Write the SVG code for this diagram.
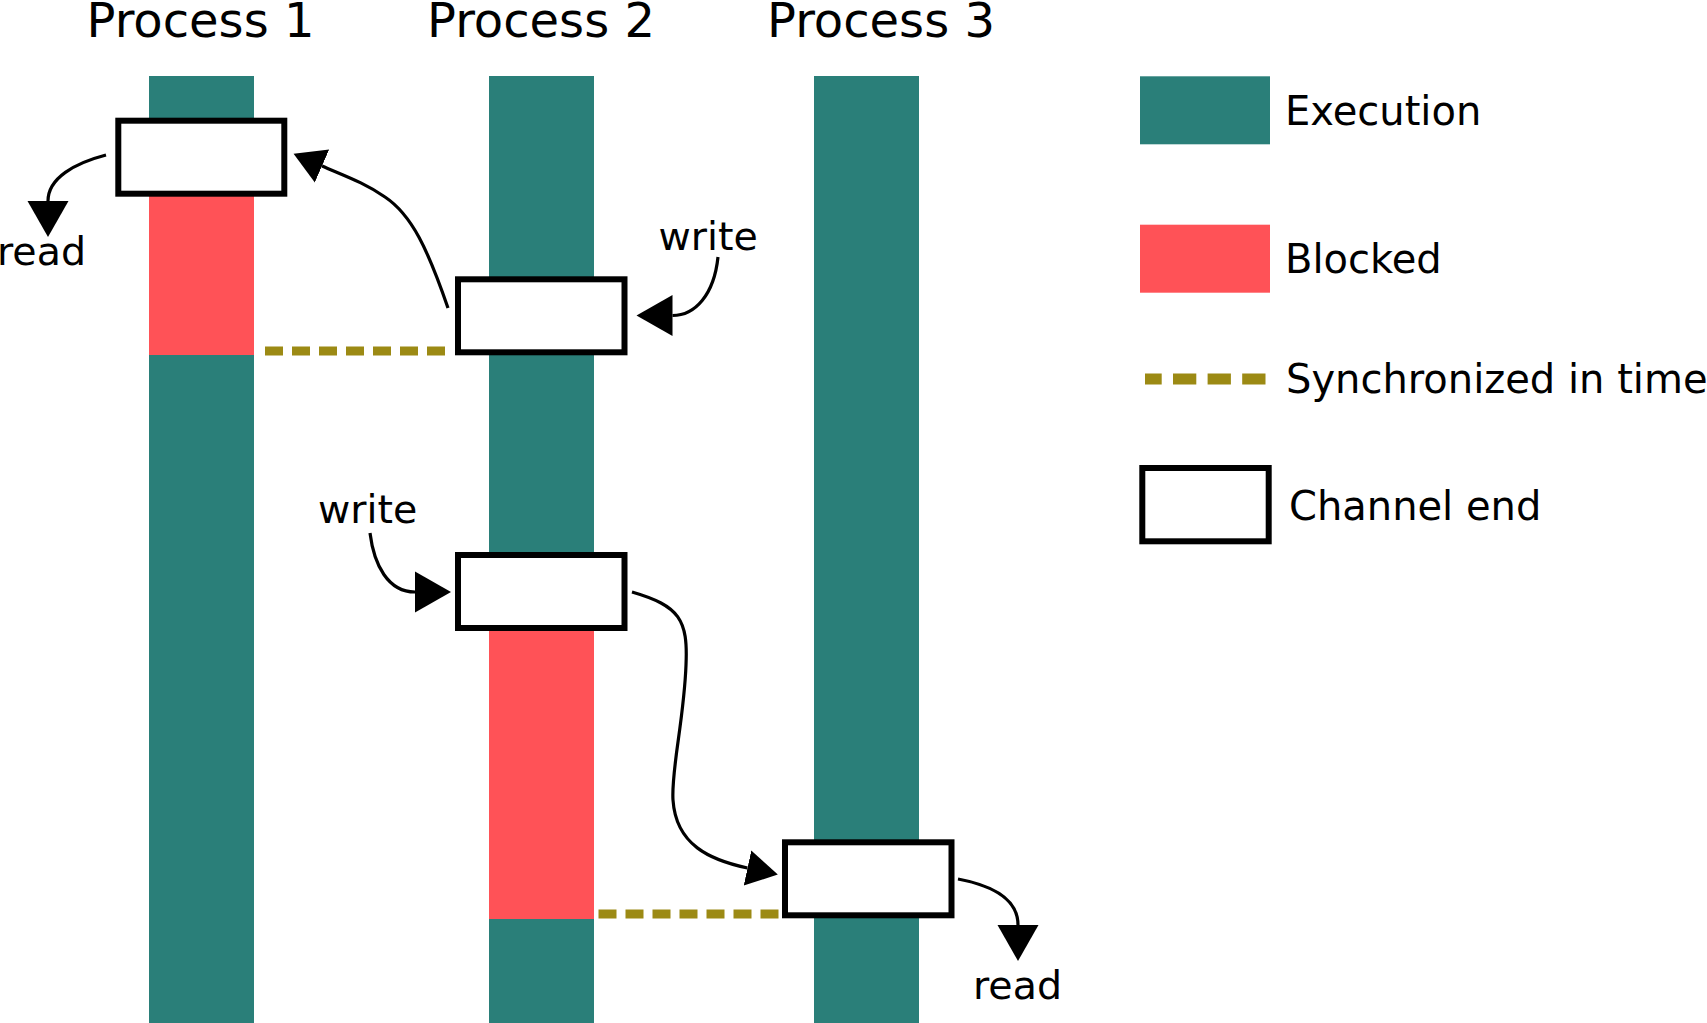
<svg xmlns="http://www.w3.org/2000/svg" width="1707" height="1023" viewBox="0 0 1707 1023">
  <style>
    text { font-family: "DejaVu Sans", "Liberation Sans", sans-serif; fill: #000; }
    .title { font-size: 48px; text-anchor: middle; }
    .lbl { font-size: 39.5px; }
    .leg { font-size: 40px; }
    .exec { fill: #2a7f79; }
    .blocked { fill: #ff5257; }
    .chan { fill: #fff; stroke: #000; stroke-width: 6; }
    .sync { fill: none; stroke: #9c8a14; stroke-width: 9; stroke-dasharray: 18 9; }
    .arrow { fill: none; stroke: #000; stroke-width: 3.2; }
    .big { marker-end: url(#arrBig); }
    .small { marker-end: url(#arrSmall); }
  </style>
  <defs>
    <marker id="arrBig" markerUnits="userSpaceOnUse" markerWidth="38" markerHeight="44" viewBox="0 -22 38 44" refX="0" refY="0" orient="auto">
      <path d="M0,-20.5 L36,0 L0,20.5 Z" fill="#000"/>
    </marker>
    <marker id="arrSmall" markerUnits="userSpaceOnUse" markerWidth="34" markerHeight="40" viewBox="0 -20 34 40" refX="0" refY="0" orient="auto">
      <path d="M0,-18 L31,0 L0,18 Z" fill="#000"/>
    </marker>
  </defs>
  <rect width="1707" height="1023" fill="#fff"/>

  <g id="process1">
    <text class="title" x="200.5" y="37">Process 1</text>
    <rect class="exec" x="149" y="76" width="105" height="120"/>
    <rect class="blocked" x="149" y="196" width="105" height="159"/>
    <rect class="exec" x="149" y="355" width="105" height="668"/>
  </g>
  <g id="process2">
    <text class="title" x="541" y="37">Process 2</text>
    <rect class="exec" x="489" y="76" width="105" height="554"/>
    <rect class="blocked" x="489" y="630" width="105" height="289"/>
    <rect class="exec" x="489" y="919" width="105" height="104"/>
  </g>
  <g id="process3">
    <text class="title" x="881" y="37">Process 3</text>
    <rect class="exec" x="814" y="76" width="105" height="947"/>
  </g>

  <g id="channel1"><rect class="chan" x="118.3" y="120.7" width="166" height="73"/></g>
  <g id="channel2"><rect class="chan" x="458" y="279.3" width="166.5" height="73"/></g>
  <g id="channel3"><rect class="chan" x="458" y="555" width="166.5" height="73"/></g>
  <g id="channel4"><rect class="chan" x="785" y="842.3" width="166.5" height="73"/></g>

  <g id="labels">
    <text class="lbl" x="-3" y="265">read</text>
    <text class="lbl" x="658.5" y="250">write</text>
    <text class="lbl" x="318" y="523.3">write</text>
    <text class="lbl" x="973" y="998.5">read</text>
  </g>

  <g id="connectors">
    <path class="sync" d="M265,351 H445"/>
    <path class="sync" d="M598.5,914 H779"/>
    <path class="arrow big" d="M106,155 C75,163 48,178 48,201"/>
    <path class="arrow small" d="M448,308 C428,250 412,215 385,197 C365,183 345,176 322,166"/>
    <path class="arrow big" d="M718,257 C714,295 695,315.5 672.5,315.5"/>
    <path class="arrow big" d="M370,533 C374,565 388,592 415,592"/>
    <path class="arrow small" d="M632,592 C680,606 688,620 686,665 C684,720 671,770 673,800 C676,845 710,860 747.5,868"/>
    <path class="arrow big" d="M958,879 C995,886 1018,900 1018,925"/>
  </g>

  <g id="legend-execution">
    <rect class="exec" x="1140" y="76.3" width="130" height="68"/>
    <text class="leg" x="1285" y="125.3">Execution</text>
  </g>
  <g id="legend-blocked">
    <rect class="blocked" x="1140" y="224.7" width="130" height="68"/>
    <text class="leg" x="1285" y="273.3">Blocked</text>
  </g>
  <g id="legend-sync">
    <path d="M1145,379 H1265.5" fill="none" stroke="#9c8a14" stroke-width="11" stroke-dasharray="23.3 11.3" stroke-dashoffset="6.6"/>
    <text class="leg" x="1286" y="392.5">Synchronized in time</text>
  </g>
  <g id="legend-channel">
    <rect class="chan" x="1142.3" y="468" width="126.4" height="73.3"/>
    <text class="leg" x="1289" y="520">Channel end</text>
  </g>
</svg>
